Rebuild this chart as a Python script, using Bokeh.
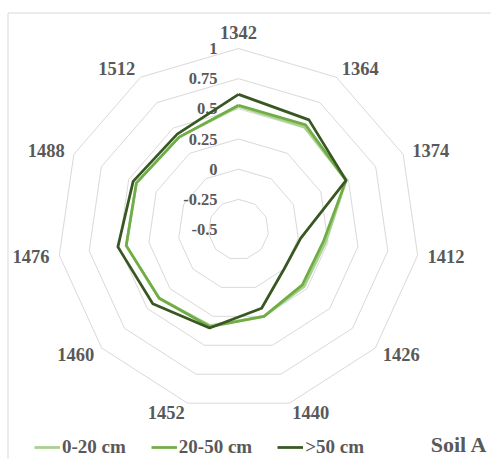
import math

from bokeh.core.properties import value
from bokeh.embed import file_html
from bokeh.models import ColumnDataSource, Legend, LegendItem, Range1d
from bokeh.plotting import figure
from bokeh.resources import INLINE

# Wavenumber channels (cm-1) around the radar
categories = ["1342", "1364", "1374", "1412", "1426", "1440",
              "1452", "1460", "1476", "1488", "1512"]

# Loadings by sampling depth
depth_0_20 = [0.52, 0.51, 0.48, 0.23, 0.22, 0.25, 0.33, 0.37, 0.44, 0.43, 0.41]
depth_20_50 = [0.53, 0.53, 0.48, 0.21, 0.20, 0.25, 0.34, 0.37, 0.44, 0.43, 0.41]
depth_50_plus = [0.62, 0.58, 0.48, 0.02, 0.00, 0.18, 0.35, 0.44, 0.51, 0.46, 0.44]

series_names = ["0-20 cm", "20-50 cm", ">50 cm"]
tick_values = [-0.5, -0.25, 0, 0.25, 0.5, 0.75, 1]
tick_labels = ["-0.5", "-0.25", "0", "0.25", "0.5", "0.75", "1"]
panel_title = "Soil A"

# ---- layout -------------------------------------------------------------
W, H = 491, 459
CX, CY = 238, 229          # radar centre in canvas pixels
RPX = 181                  # radius of the outer ring in pixels
R_MIN, R_MAX = tick_values[0], tick_values[-1]

FONT = value("Liberation Serif")
TEXT_GREY = "#595959"
GRID_GREY = "#D9D9D9"
COLORS = ["#A9D18E", "#70AD47", "#385723"]


def px(x, y):
    """Canvas pixel -> data coordinates (one data unit = outer radius)."""
    return (x - CX) / RPX, (CY - y) / RPX


def radial(v):
    return (v - R_MIN) / (R_MAX - R_MIN)


n = len(categories)
angles = [2 * math.pi * k / n for k in range(n)]   # clockwise from top


def polar_xy(vals):
    xs = [radial(v) * math.sin(a) for v, a in zip(vals, angles)]
    ys = [radial(v) * math.cos(a) for v, a in zip(vals, angles)]
    return xs + xs[:1], ys + ys[:1]


p = figure(width=W, height=H, output_backend="svg", toolbar_location=None,
           x_range=Range1d(-CX / RPX, (W - CX) / RPX),
           y_range=Range1d(-(H - CY) / RPX, CY / RPX),
           x_axis_location=None, y_axis_location=None,
           min_border=0, outline_line_color=None)
p.grid.visible = False
p.background_fill_color = "white"
p.border_fill_color = "white"

# panel border (top and left edges)
bx0, by0 = px(7.5, 12.5)
bx1, _ = px(W, 12.5)
_, by1 = px(7.5, H)
p.segment(x0=[bx0, bx0], y0=[by0, by0], x1=[bx1, bx0], y1=[by0, by1],
          line_color=GRID_GREY, line_width=1)

# concentric polygon gridlines
for t in tick_values[1:]:
    gx, gy = polar_xy([t] * n)
    p.line(gx, gy, line_color=GRID_GREY, line_width=1)

# value labels along the vertical spoke
tick_src = ColumnDataSource(dict(
    x=[-21 / RPX] * len(tick_values),
    y=[radial(t) for t in tick_values],
    text=tick_labels))
p.text(x="x", y="y", text="text", source=tick_src, text_font=FONT,
       text_font_style="bold", text_font_size="16.5px", text_color=TEXT_GREY,
       text_align="right", text_baseline="middle")

# category labels around the outside
lab_r = 1 + 10 / RPX
lx, ly, la, lb = [], [], [], []
for a in angles:
    s = math.sin(a)
    lx.append(lab_r * s)
    ly.append(lab_r * math.cos(a))
    la.append("left" if s > 0.01 else ("right" if s < -0.01 else "center"))
    lb.append("bottom" if abs(a) < 1e-9 else "middle")
cat_src = ColumnDataSource(dict(x=lx, y=ly, text=categories, align=la, base=lb))
p.text(x="x", y="y", text="text", source=cat_src, text_font=FONT,
       text_font_style="bold", text_font_size="18.5px", text_color=TEXT_GREY,
       text_align="align", text_baseline="base")

# data series
renderers = []
for vals, col in zip([depth_0_20, depth_20_50, depth_50_plus], COLORS):
    sx, sy = polar_xy(vals)
    r = p.line(sx, sy, line_color=col, line_width=2.75, line_join="round")
    renderers.append(r)

legend = Legend(
    items=[LegendItem(label=nm, renderers=[r]) for nm, r in zip(series_names, renderers)],
    orientation="horizontal", location=(34, 1),
    glyph_width=26, glyph_height=14, label_height=14, label_standoff=2,
    spacing=25, padding=0, margin=0,
    border_line_color=None, background_fill_alpha=0,
    label_text_font="Liberation Serif", label_text_font_style="bold",
    label_text_font_size="19px", label_text_color=TEXT_GREY)
p.add_layout(legend)

tx, ty = px(487, 444)
p.text(x=[tx], y=[ty], text=[panel_title], text_font=FONT,
       text_font_style="bold", text_font_size="22px", text_color=TEXT_GREY,
       text_align="right", text_baseline="middle")

open("out.html", "w").write(file_html(p, INLINE))
